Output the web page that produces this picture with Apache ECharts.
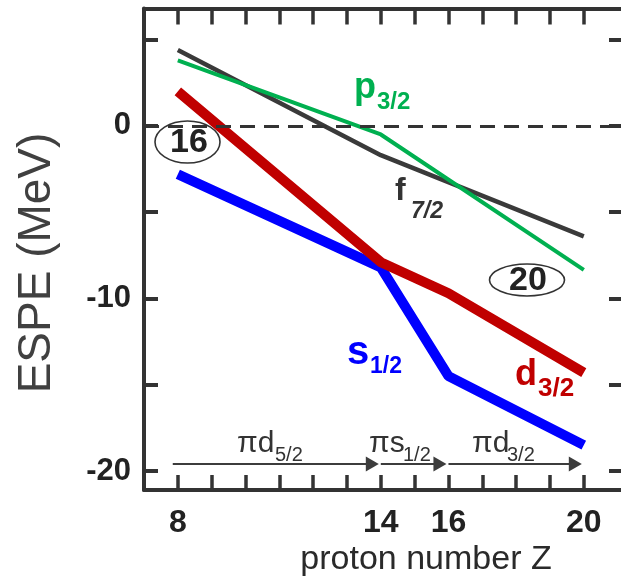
<!DOCTYPE html>
<html>
<head>
<meta charset="utf-8">
<script src="https://cdn.jsdelivr.net/npm/echarts@6/dist/echarts.min.js"></script>
<style>
html,body{margin:0;padding:0;background:#fff;}
#c{width:621px;height:586px;}
</style>
</head>
<body>
<div id="c"></div>
<script>
// ---- data ----
const zF = [8, 14, 20];
const eF = [4.4, -1.7, -6.4];          // f7/2
const zP = [8, 14, 20];
const eP = [3.8, -0.5, -8.35];         // p3/2
const zD = [8, 14, 16, 20];
const eD = [2.0, -7.9, -9.7, -14.3];   // d3/2
const zS = [8, 14, 16, 20];
const eS = [-2.8, -8.2, -14.5, -18.5]; // s1/2
const xTickValues = [8, 9, 10, 11, 12, 13, 14, 15, 16, 17, 18, 19, 20];
const xLabelValues = [8, 14, 16, 20];
const yTickValues = [-20, -15, -10, -5, 0, 5];
const yLabelValues = [-20, -10, 0];
const arrowFrom = [7.85, 14, 16];
const arrowTo = [14, 16, 20];
const arrowLevel = -19.6;
const arrowMain = ['\u03C0d', '\u03C0s', '\u03C0d'];
const arrowSub = ['5/2', '1/2', '3/2'];

const pairs = (xs, ys) => xs.map((x, i) => [x, ys[i]]);
const FONT = 'Liberation Sans, Arial, sans-serif';
const DARK = '#333333';

const chart = echarts.init(document.getElementById('c'));

const axisLineStyle = { color: DARK, width: 4 };
chart.setOption({
  animation: false,
  grid: { left: 144, top: 8.5, width: 480.5, height: 481.5 },
  xAxis: [
    {
      type: 'value', min: 7, max: 21.1, position: 'bottom',
      axisLine: { show: true, onZero: false, lineStyle: axisLineStyle },
      axisTick: { show: true, inside: true, length: 15, customValues: xTickValues,
                  lineStyle: { color: DARK, width: 3.5 } },
      axisLabel: { show: true, customValues: xLabelValues, fontSize: 32, fontWeight: 'bold',
                   color: '#222', fontFamily: FONT, margin: 17 },
      splitLine: { show: false }
    },
    {
      type: 'value', min: 7, max: 21.1, position: 'top',
      axisLine: { show: true, onZero: false, lineStyle: axisLineStyle },
      axisTick: { show: true, inside: true, length: 16, customValues: xTickValues,
                  lineStyle: { color: DARK, width: 3.5 } },
      axisLabel: { show: false },
      splitLine: { show: false }
    }
  ],
  yAxis: [
    {
      type: 'value', min: -21.1, max: 6.8, position: 'left',
      axisLine: { show: true, onZero: false, lineStyle: axisLineStyle },
      axisTick: { show: true, inside: true, length: 14, customValues: yTickValues,
                  lineStyle: { color: DARK, width: 4 } },
      axisLabel: { show: true, customValues: yLabelValues, fontSize: 31, fontWeight: 'bold',
                   color: '#222', fontFamily: FONT, margin: 13 },
      splitLine: { show: false }
    },
    {
      type: 'value', min: -21.1, max: 6.8, position: 'right',
      axisLine: { show: false, onZero: false },
      axisTick: { show: true, inside: true, length: 12, customValues: yTickValues,
                  lineStyle: { color: DARK, width: 4 } },
      axisLabel: { show: false },
      splitLine: { show: false }
    }
  ],
  series: [
    {
      name: 'f7/2', type: 'line', data: pairs(zF, eF), symbol: 'none',
      lineStyle: { color: '#3a3a3a', width: 4.5 },
      markLine: {
        silent: true, symbol: 'none', label: { show: false },
        lineStyle: { color: DARK, width: 3, type: [15, 9] },
        data: [{ yAxis: 0 }]
      }
    },
    { name: 's1/2', type: 'line', data: pairs(zS, eS), symbol: 'none',
      lineStyle: { color: '#0000ff', width: 10 } },
    { name: 'd3/2', type: 'line', data: pairs(zD, eD), symbol: 'none',
      lineStyle: { color: '#c00000', width: 10 } },
    { name: 'p3/2', type: 'line', data: pairs(zP, eP), symbol: 'none',
      lineStyle: { color: '#00b050', width: 4 } }
  ]
});

// ---- annotations ----
const g = [];
function txt(x, y, text, size, color, weight, extra) {
  g.push(Object.assign({
    type: 'text', x: x, y: y, z: 100,
    style: Object.assign({ text: text, fill: color, fontSize: size, fontWeight: weight || 'normal',
             fontFamily: FONT, align: 'left', verticalAlign: 'middle' }, extra || {})
  }));
}
// axis names
g.push({ type: 'text', x: 37, y: 263, rotation: Math.PI / 2, z: 100,
  style: { text: 'ESPE (MeV)', fill: '#404040', fontSize: 46, fontFamily: FONT,
           align: 'center', verticalAlign: 'middle' } });
g.push({ type: 'text', x: 426, y: 560, z: 100,
  style: { text: 'proton number Z', fill: '#2a2a2a', fontSize: 34, fontFamily: FONT,
           align: 'center', verticalAlign: 'middle' } });

// orbital labels
txt(354, 88, 'p', 36, '#00b050', 'bold');
txt(377, 102, '3/2', 24, '#00b050', 'bold');
txt(395, 191, 'f', 32, DARK, 'bold');
txt(411, 212, '7/2', 23, DARK, 'bold', { fontStyle: 'italic' });
txt(347, 353, 's', 40, '#0000ff', 'bold');
txt(370, 367, '1/2', 23, '#0000ff', 'bold');
txt(515, 375, 'd', 36, '#c00000', 'bold');
txt(538, 389, '3/2', 26, '#c00000', 'bold');

// circled shell numbers
g.push({ type: 'ellipse', shape: { cx: 187.5, cy: 142, rx: 32.5, ry: 21 }, z: 99,
  style: { fill: 'rgba(255,255,255,0)', stroke: DARK, lineWidth: 1.6 } });
g.push({ type: 'text', x: 189, y: 143, z: 100,
  style: { text: '16', fill: '#222', fontSize: 34, fontWeight: 'bold', fontFamily: FONT,
           align: 'center', verticalAlign: 'middle' } });
g.push({ type: 'ellipse', shape: { cx: 527, cy: 280, rx: 37.5, ry: 16 }, z: 99,
  style: { fill: 'rgba(255,255,255,0)', stroke: DARK, lineWidth: 1.6 } });
g.push({ type: 'text', x: 528, y: 281, z: 100,
  style: { text: '20', fill: '#222', fontSize: 34, fontWeight: 'bold', fontFamily: FONT,
           align: 'center', verticalAlign: 'middle' } });

// arrows (through the axis scales)
const labelLeft = [237, 369, 472];
const subLeft = [275, 403, 507];
for (let i = 0; i < arrowFrom.length; i++) {
  const a = chart.convertToPixel({ xAxisIndex: 0, yAxisIndex: 0 }, [arrowFrom[i], arrowLevel]);
  const b = chart.convertToPixel({ xAxisIndex: 0, yAxisIndex: 0 }, [arrowTo[i], arrowLevel]);
  const headLen = 13, headHalf = 7.5;
  g.push({ type: 'line', z: 90, shape: { x1: a[0], y1: a[1], x2: b[0] - headLen + 1, y2: b[1] },
    style: { stroke: '#3c3c3c', lineWidth: 2 } });
  g.push({ type: 'polygon', z: 90,
    shape: { points: [[b[0] - 2, b[1]], [b[0] - 2 - headLen, b[1] - headHalf], [b[0] - 2 - headLen, b[1] + headHalf]] },
    style: { fill: '#3c3c3c' } });
  txt(labelLeft[i], 444, arrowMain[i], 30, DARK, 'normal');
  txt(subLeft[i], 455, arrowSub[i], 20, DARK, 'normal');
}
chart.setOption({ graphic: g });
</script>
</body>
</html>
